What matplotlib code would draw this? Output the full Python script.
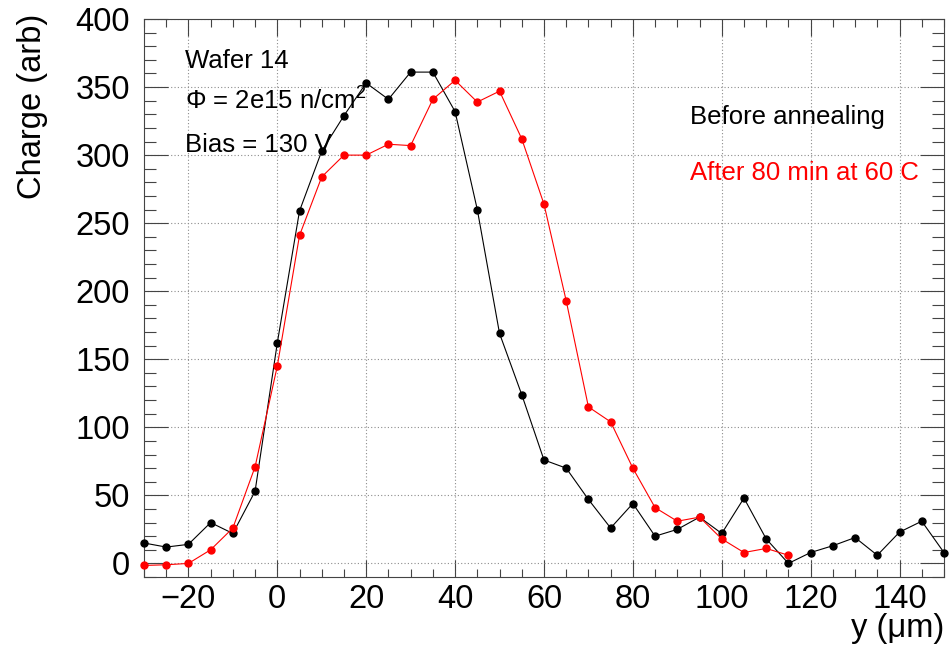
# Charge profile vs depth, before / after annealing (ROOT-style plot)
import matplotlib
matplotlib.use("Agg")
import matplotlib.pyplot as plt
from matplotlib.ticker import MultipleLocator

plt.rcParams['font.family'] = ['Liberation Sans', 'DejaVu Sans']
plt.rcParams['mathtext.fontset'] = 'custom'
plt.rcParams['mathtext.rm'] = 'Liberation Sans'
plt.rcParams['mathtext.it'] = 'Liberation Sans:italic'
plt.rcParams['mathtext.bf'] = 'Liberation Sans:bold'

# data
y_before = [-30, -25, -20, -15, -10, -5, 0, 5, 10, 15, 20, 25, 30, 35, 40, 45,
            50, 55, 60, 65, 70, 75, 80, 85, 90, 95, 100, 105, 110, 115, 120,
            125, 130, 135, 140, 145, 150]
q_before = [15, 12, 14, 30, 22, 53, 162, 259, 303, 329, 353, 341, 361, 361,
            332, 260, 169, 124, 76, 70, 47, 26, 44, 20, 25, 34, 22, 48, 18, 0,
            8, 13, 19, 6, 23, 31, 8]

y_after = [-30, -25, -20, -15, -10, -5, 0, 5, 10, 15, 20, 25, 30, 35, 40, 45,
           50, 55, 60, 65, 70, 75, 80, 85, 90, 95, 100, 105, 110, 115]
q_after = [-1.5, -1, 0, 10, 26, 71, 145, 241, 284, 300, 300, 308, 307, 341,
           355, 339, 347, 312, 264, 193, 115, 104, 70, 41, 31, 34, 18, 8, 11, 6]

label_before = 'Before annealing'
label_after = 'After 80 min at 60 C'
info_lines = ['Wafer 14', r'$\Phi$ = 2e15 n/cm$^{2}$', 'Bias = 130 V']

fig = plt.figure(figsize=(9.49, 6.56), dpi=100)
ax = fig.add_axes([0.1517, 0.1204, 0.8430, 0.8506])

ax.plot(y_before, q_before, color='black', lw=0.8, marker='o', ms=5,
        clip_on=False, zorder=3)
ax.plot(y_after, q_after, color='red', lw=0.8, marker='o', ms=5,
        clip_on=False, zorder=3)

ax.set_xlim(-30, 150)
ax.set_ylim(-10, 400)

ax.xaxis.set_major_locator(MultipleLocator(20))
ax.xaxis.set_minor_locator(MultipleLocator(5))
ax.yaxis.set_major_locator(MultipleLocator(50))
ax.yaxis.set_minor_locator(MultipleLocator(10))

ax.grid(True, which='major', color='#8c8c8c', linestyle=(0, (1, 2)), lw=0.8)
ax.set_axisbelow(True)

ax.tick_params(which='both', direction='in', top=True, right=True,
               color='#444444', width=0.8, labelsize=23.5)
ax.tick_params(axis='x', which='major', length=12, pad=5)
ax.tick_params(axis='x', which='minor', length=6)
ax.tick_params(axis='y', which='major', length=17, pad=10)
ax.tick_params(axis='y', which='minor', length=8.6)
for s in ax.spines.values():
    s.set_color('#444444')
    s.set_linewidth(0.8)

ax.set_xlabel('y (μm)', fontsize=23.5, loc='right')
ax.xaxis.set_label_coords(1.0, -0.064)
ax.set_ylabel('Charge (arb)', fontsize=23.5, loc='top')
ax.yaxis.set_label_coords(-0.12, 1.01)

# annotations
for txt, yy in zip(info_lines, [0.913, 0.837, 0.762]):
    ax.text(0.051, yy, txt, transform=ax.transAxes, fontsize=18.5,
            va='baseline')
ax.text(0.682, 0.811, label_before, transform=ax.transAxes, fontsize=18.5,
        va='baseline', color='black')
ax.text(0.682, 0.711, label_after, transform=ax.transAxes, fontsize=18.5,
        va='baseline', color='red')

fig.savefig('out.png', dpi=100)
